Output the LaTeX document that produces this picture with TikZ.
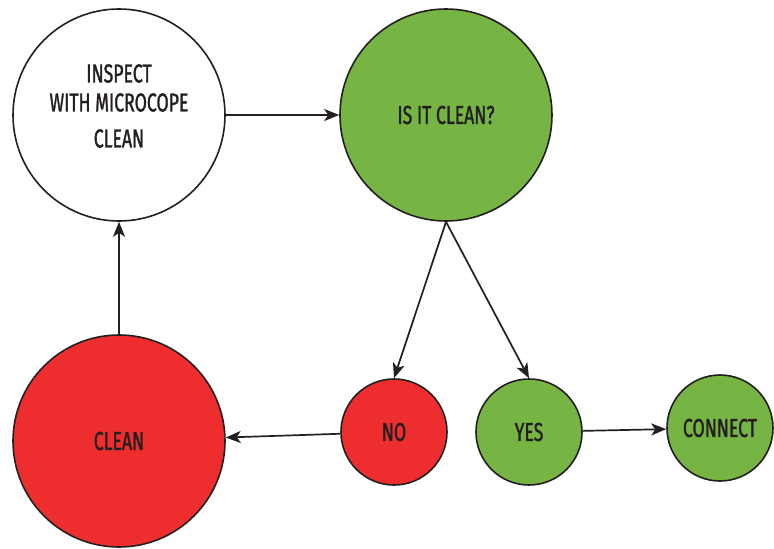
\documentclass[tikz,border=0pt]{standalone}
\usepackage{fontspec}
\setmainfont{Fira Sans}[FakeStretch=0.68, FakeBold=1.2]
\usetikzlibrary{arrows.meta}
\definecolor{ogreen}{HTML}{76B443}
\definecolor{ored}{HTML}{EE2D2E}
\definecolor{ink}{HTML}{231F20}
\tikzset{
  bub/.style={circle, draw=ink, line width=1.6pt, inner sep=0pt, text=ink, font=\fontsize{26}{29}\selectfont, align=center},
  big/.style={bub, minimum size=212pt},
  small/.style={bub, minimum size=106pt},
  conn/.style={draw=ink, line width=1.7pt, -{Stealth[length=15pt,width=12pt,inset=4pt]}}
}
\begin{document}
\begin{tikzpicture}[x=1pt,y=-1pt]
\useasboundingbox (0,0) rectangle (774,549);
\node[big, fill=white] (insp) at (119,115) {};
\node[text=ink, font=\fontsize{26}{29}\selectfont, align=center] (insptxt) at (119,106) {INSPECT\\[0pt]WITH MICROCOPE\\[7pt]CLEAN};
\node[big, fill=ogreen] (isclean) at (446,115) {IS IT CLEAN?};
\node[big, fill=ored] (clean) at (119,441) {CLEAN};
\node[small, fill=ored] (no) at (394,432) {NO};
\node[small, fill=ogreen] (yes) at (529,432) {YES};
\node[small, fill=ogreen] (connect) at (720,428) {CONNECT};
\draw[conn] (insp) -- (isclean);
\draw[conn] (isclean.south) -- (no.north);
\draw[conn] (isclean.south) -- (yes.north);
\draw[conn] (no) -- (clean);
\draw[conn] (yes) -- (connect);
\draw[conn] (clean) -- (insp);
\end{tikzpicture}
\end{document}
